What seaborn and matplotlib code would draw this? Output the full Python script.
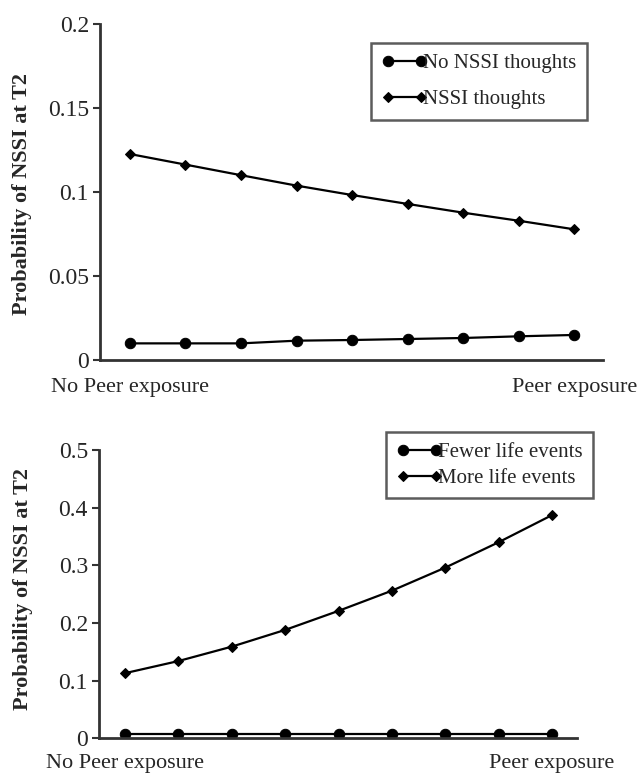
import numpy as np
import pandas as pd
import matplotlib
matplotlib.use("Agg")
import matplotlib.pyplot as plt
import seaborn as sns

# ---- data ----
steps = list(range(9))
top_no_thoughts = [0.0099, 0.0099, 0.0099, 0.0115, 0.0119, 0.0125, 0.0131, 0.0141, 0.0149]
top_thoughts = [0.1226, 0.1163, 0.1100, 0.1038, 0.0982, 0.0929, 0.0877, 0.0829, 0.0778]
bot_fewer = [0.007, 0.007, 0.007, 0.007, 0.007, 0.007, 0.007, 0.007, 0.007]
bot_more = [0.113, 0.134, 0.159, 0.188, 0.221, 0.256, 0.296, 0.340, 0.387]
top_series = ["No NSSI thoughts", "NSSI thoughts"]
bot_series = ["Fewer life events", "More life events"]
x_labels = ["No Peer exposure", "Peer exposure"]
top_yticks = [0, 0.05, 0.1, 0.15, 0.2]
top_yticklabels = ["0", "0.05", "0.1", "0.15", "0.2"]
bot_yticks = [0, 0.1, 0.2, 0.3, 0.4, 0.5]
bot_yticklabels = ["0", "0.1", "0.2", "0.3", "0.4", "0.5"]
ylabel = "Probability of NSSI at T2"

sns.set_style("ticks")
plt.rcParams["font.family"] = ["Liberation Serif", "DejaVu Serif"]

fig = plt.figure(figsize=(6.38, 7.75), dpi=100)
ax1 = fig.add_axes([100/638, 1-360/775, 503/638, 336/775])
ax2 = fig.add_axes([99/638, 1-738.3/775, 478/638, 288.3/775])

spine_color = "#333333"

def draw(ax, s1, s2, names, yticks, yticklabels, ylim, xlim, lab_y, pad, leg_kw):
    df1 = pd.DataFrame({"x": steps, "y": s1})
    df2 = pd.DataFrame({"x": steps, "y": s2})
    sns.lineplot(data=df1, x="x", y="y", ax=ax, color="black", marker="o",
                 markersize=7.5, markeredgecolor="black", linewidth=1.6, label=names[0])
    sns.lineplot(data=df2, x="x", y="y", ax=ax, color="black", marker="D",
                 markersize=5, markeredgecolor="black", linewidth=1.6, label=names[1])
    ax.set_xlim(*xlim)
    ax.set_ylim(*ylim)
    ax.set_yticks(yticks)
    ax.set_yticklabels(yticklabels, fontsize=17)
    ax.set_xticks([0, 8])
    ax.set_xticklabels(x_labels, fontsize=16)
    ax.tick_params(axis="x", length=0, pad=pad)
    ax.tick_params(axis="y", length=5, width=1.5, color=spine_color, direction="out", pad=3)
    for s in ["top", "right"]:
        ax.spines[s].set_visible(False)
    for s in ["left", "bottom"]:
        ax.spines[s].set_linewidth(2)
        ax.spines[s].set_color(spine_color)
    ax.set_xlabel("")
    ax.set_ylabel(ylabel, fontsize=16, fontweight="bold")
    ax.yaxis.set_label_coords(lab_y[0], lab_y[1])
    h, l = ax.get_legend_handles_labels()
    leg = ax.legend(h, l, numpoints=2, frameon=True, fancybox=False,
                    edgecolor="#333333", fontsize=15, handlelength=2.2,
                    handletextpad=-0.2, borderpad=0.5, borderaxespad=0, **leg_kw)
    leg.get_frame().set_linewidth(1.8)
    leg.get_frame().set_facecolor("white")

draw(ax1, top_no_thoughts, top_thoughts, top_series, top_yticks, top_yticklabels,
     (0, 0.2), (-0.54, 8.52), (-0.135, 0.494), 13,
     dict(loc="upper left", bbox_to_anchor=(271/503, 1-19/336), labelspacing=0.8))
draw(ax2, bot_fewer, bot_more, bot_series, bot_yticks, bot_yticklabels,
     (0, 0.5), (-0.49, 8.47), (-0.138, 0.518), 11,
     dict(loc="upper left", bbox_to_anchor=(287/478, 1+18/288.3), labelspacing=0.3))

fig.savefig("out.png", dpi=100)
